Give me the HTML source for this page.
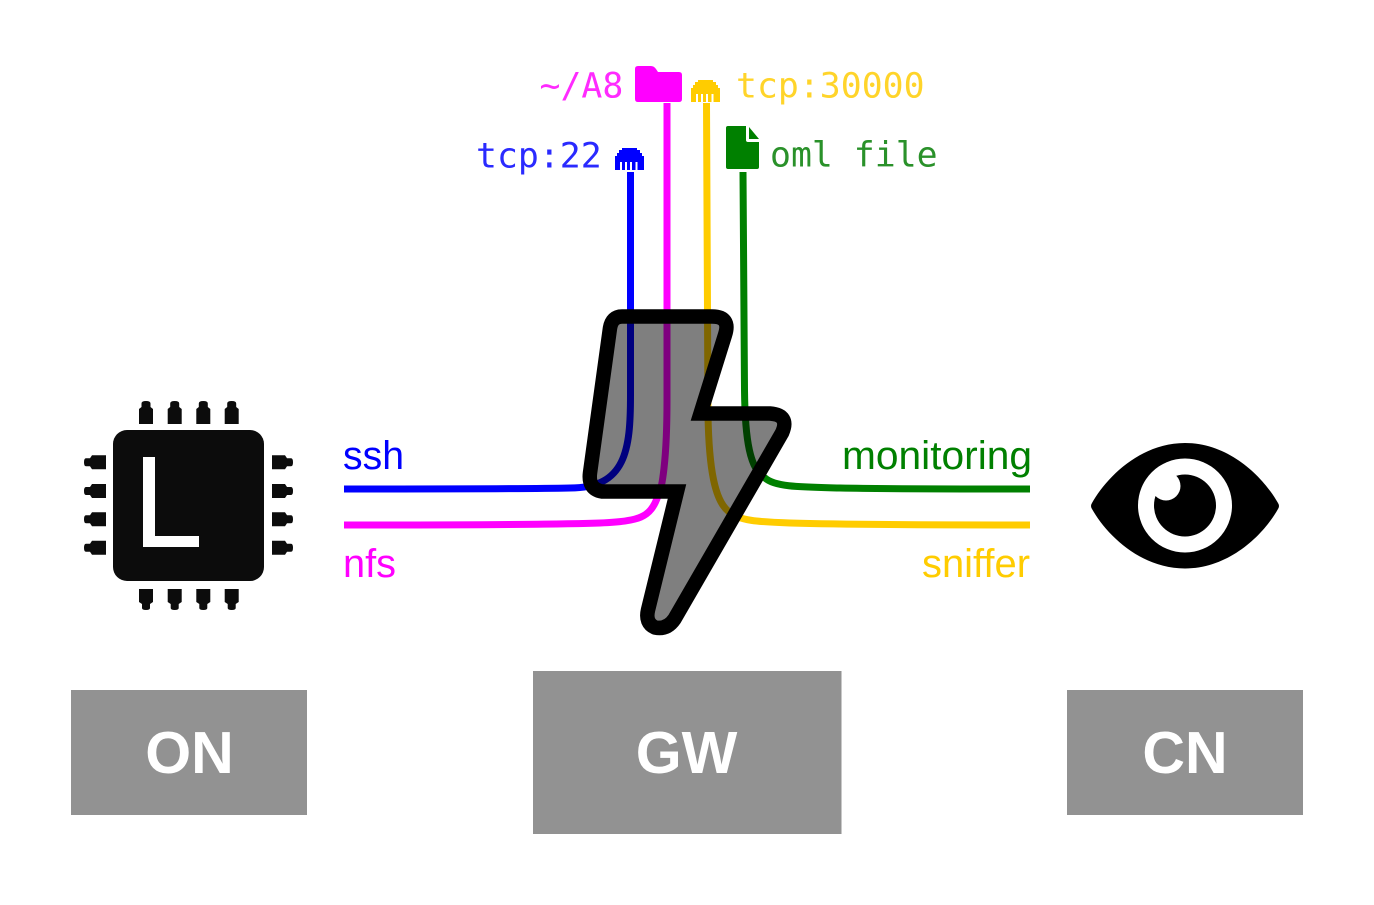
<!DOCTYPE html>
<html><head><meta charset="utf-8"><title>Diagram</title>
<style>html,body{margin:0;padding:0;background:#fff}svg{display:block}</style></head>
<body>
<svg xmlns="http://www.w3.org/2000/svg" width="1374" height="905" viewBox="0 0 1374 905">
<defs>
<g id="rj">
<path d="M7 0H22V2H25V5H27V8H29V22H0V8H2V5H4V2H7Z"/>
<g fill="#fff"><rect x="5" y="14" width="2" height="8"/><rect x="10" y="14" width="2" height="8"/><rect x="15" y="14" width="2" height="8"/><rect x="20.500" y="14" width="2" height="8"/></g>
</g>
<path id="pt" d="M-7 22V7L-4.500 5V1.500Q-4.500 -1 0 -1Q4.500 -1 4.500 1.500V5L-4.500 5L-7 7Z M-7 7L-4.500 5H4.500L7 7V22H-7Z"/>
<path id="pb" d="M-7 0V13L-4 15V19Q-4 21 0 21Q4 21 4 19V15L7 13V0Z"/>
<path id="pl" d="M22 -7H8L6 -4H2Q0 -4 0 0Q0 4 2 4H6L8 7H22Z"/>
<path id="pr" d="M0 -7H13L15 -4H19Q21 -4 21 0Q21 4 19 4H15L13 7H0Z"/>
</defs>
<rect width="1374" height="905" fill="#fff"/>

<!-- connectors -->
<g fill="none" stroke-width="7">
<path stroke="#0000ff" d="M630.500 172V395C630.500 450 626 488 570 488C520 489 420 489 344 489"/>
<path stroke="#ff00ff" d="M667 103V400C667 460 662 490 658 496C650 518 640 521 600 523C540 525 420 525 344 525"/>
<path stroke="#ffcc00" d="M706.500 103L708 415C709 470 715 500 728 511C738 521 760 522 790 523C860 525 950 525 1030 525"/>
<path stroke="#008000" d="M743 172L744.500 390C745 440 750 470 765 478C775 487 800 487 840 488C900 489 970 489 1030 489"/>
</g>

<!-- bolt -->
<path d="M622 316.500H712Q731 316.500 725 335L700.500 413.500H770Q790 415 782 433L674.500 619Q667 630 655 627.500Q645 623 648 610L677 491.500H602Q588 489 590 473L610 328Q612 316.500 622 316.500Z" fill="rgba(0,0,0,.5)" stroke="#000" stroke-width="14.500" stroke-linejoin="miter" stroke-miterlimit="6"/>

<!-- CPU -->
<g fill="#0c0c0c">
<rect x="113" y="430" width="151" height="151" rx="14"/>
<use href="#pt" x="146" y="402"/><use href="#pt" x="174.700" y="402"/><use href="#pt" x="203.300" y="402"/><use href="#pt" x="231.700" y="402"/>
<use href="#pb" x="146" y="589"/><use href="#pb" x="174.700" y="589"/><use href="#pb" x="203.300" y="589"/><use href="#pb" x="231.700" y="589"/>
<use href="#pl" x="84" y="462.300"/><use href="#pl" x="84" y="491"/><use href="#pl" x="84" y="519.300"/><use href="#pl" x="84" y="547.700"/>
<use href="#pr" x="272" y="462.300"/><use href="#pr" x="272" y="491"/><use href="#pr" x="272" y="519.300"/><use href="#pr" x="272" y="547.700"/>
</g>
<path d="M143 457H155V536H199V547H143Z" fill="#fff"/>

<!-- eye -->
<path d="M1185 443C1230 443 1264 478 1278 503Q1280 506 1278 509C1264 534 1230 568.500 1185 568.500C1140 568.500 1106 534 1092 509Q1090 506 1092 503C1106 478 1140 443 1185 443Z"/>
<circle cx="1185" cy="505.500" r="47" fill="#fff"/>
<circle cx="1185" cy="505.500" r="31"/>
<circle cx="1166" cy="486" r="14.500" fill="#fff"/>

<!-- top icons -->
<path fill="#ff00ff" d="M638 66H651Q654 66 656 69L658 72H679Q682 72 682 75V99Q682 102 679 102H638Q635 102 635 99V69Q635 66 638 66Z"/>
<use href="#rj" x="691" y="80" fill="#ffcc00"/>
<use href="#rj" x="615" y="148" fill="#0000ff"/>
<path fill="#008000" d="M728 126H746V140Q746 142 748 142H759V167Q759 169 757 169H728Q726 169 726 167V128Q726 126 728 126Z"/>
<path fill="#008000" d="M749 127L759 139H749Z"/>

<!-- mono labels -->
<g font-family="'DejaVu Sans Mono','Liberation Mono',monospace" font-size="34.800">
<text x="539.500" y="97.500" fill="#ff2aff">~/A8</text>
<text x="736" y="97.500" fill="#ffd42a">tcp:30000</text>
<text x="476" y="167.500" fill="#2a2aff">tcp:22</text>
<text x="770" y="166.500" fill="#2a912a">oml file</text>
</g>

<!-- sans labels -->
<g font-family="'Liberation Sans',Arial,sans-serif" font-size="40">
<text x="343" y="469" fill="#0000ff" textLength="61" lengthAdjust="spacingAndGlyphs">ssh</text>
<text x="343" y="577" fill="#ff00ff" textLength="53" lengthAdjust="spacingAndGlyphs">nfs</text>
<text x="842" y="469" fill="#008000" textLength="190" lengthAdjust="spacingAndGlyphs">monitoring</text>
<text x="922" y="577" fill="#ffcc00" textLength="108" lengthAdjust="spacingAndGlyphs">sniffer</text>
</g>

<!-- boxes -->
<g fill="#929292">
<rect x="71" y="690" width="236" height="125"/>
<rect x="533" y="671" width="308.500" height="163"/>
<rect x="1067" y="690" width="236" height="125"/>
</g>
<g font-family="'Liberation Sans',Arial,sans-serif" font-size="59" font-weight="bold" fill="#fff" text-anchor="middle">
<text x="189.500" y="773">ON</text>
<text x="686.500" y="773">GW</text>
<text x="1185" y="773">CN</text>
</g>
</svg>
</body></html>
